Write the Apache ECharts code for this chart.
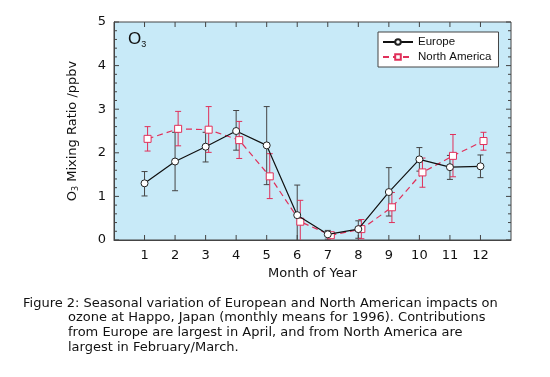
<!DOCTYPE html>
<html>
<head>
<meta charset="utf-8">
<script src="https://cdn.jsdelivr.net/npm/echarts@6/dist/echarts.min.js"></script>
<style>
    html, body { margin: 0; padding: 0; background: #fff; }
    #chart { width: 550px; height: 377px; }
</style>
</head>
<body>
<div id="chart"></div>
<script>
    'use strict';
    var months = [1, 2, 3, 4, 5, 6, 7, 8, 9, 10, 11, 12];

    var europe     = [1.30, 1.80, 2.14, 2.50, 2.17, 0.57, 0.13, 0.25, 1.10, 1.85, 1.67, 1.69];
    var europeLow  = [1.01, 1.13, 1.79, 2.06, 1.27, -0.10, 0.02, 0.04, 0.55, 1.58, 1.39, 1.43];
    var europeHigh = [1.57, 2.47, 2.47, 2.97, 3.06, 1.26, 0.22, 0.44, 1.66, 2.12, 1.94, 1.95];

    var america     = [2.32, 2.55, 2.53, 2.29, 1.46, 0.42, 0.11, 0.25, 0.75, 1.55, 1.93, 2.27];
    var americaLow  = [2.04, 2.16, 2.01, 1.87, 0.95, -0.10, 0.05, 0.03, 0.40, 1.21, 1.45, 2.06];
    var americaHigh = [2.60, 2.95, 3.06, 2.72, 1.98, 0.91, 0.17, 0.47, 1.09, 1.88, 2.42, 2.47];

    var captionLines = [
        'Figure 2: Seasonal variation of European and North American impacts on',
        'ozone at Happo, Japan (monthly means for 1996). Contributions',
        'from Europe are largest in April, and from North America are',
        'largest in February/March.'
    ];

    var font = '"DejaVu Sans", sans-serif';
    var legendFont = '"Liberation Sans", Arial, sans-serif';
    var shift = 0.1; // North America points sit a little right of the month
    var xMin = 0, xMax = 13, yMin = 0, yMax = 5;

    // inside tick marks: every 0.2 on y (major on whole numbers), every month on x
    var yTickVals = [];
    for (var t = 0; t <= 25; t++) { yTickVals.push(t / 5); }

    function points(vals, dx) {
        return months.map(function(m, i) { return [m + dx, vals[i]]; });
    }
    function bars(lo, hi, dx) {
        return months.map(function(m, i) { return [m + dx, lo[i], hi[i]]; });
    }

    function errorBar(color) {
        return function(params, api) {
            var x = api.value(0);
            var top = api.coord([x, api.value(2)]);
            var bot = api.coord([x, api.value(1)]);
            var w = 3;
            var st = { stroke: color, lineWidth: 1 };
            return {
                type: 'group',
                children: [
                    { type: 'line', shape: { x1: top[0], y1: top[1], x2: bot[0], y2: bot[1] }, style: st },
                    { type: 'line', shape: { x1: top[0] - w, y1: top[1], x2: top[0] + w, y2: top[1] }, style: st },
                    { type: 'line', shape: { x1: bot[0] - w, y1: bot[1], x2: bot[0] + w, y2: bot[1] }, style: st }
                ]
            };
        };
    }

    var tickStroke = { stroke: '#444', lineWidth: 1 };
    function yTick(params, api) {
        var v = api.value(0);
        var len = Math.abs(v - Math.round(v)) < 1e-6 ? 5 : 3;
        var l = api.coord([xMin, v]), r = api.coord([xMax, v]);
        return {
            type: 'group',
            children: [
                { type: 'line', shape: { x1: l[0], y1: l[1], x2: l[0] + len, y2: l[1] }, style: tickStroke },
                { type: 'line', shape: { x1: r[0], y1: r[1], x2: r[0] - len, y2: r[1] }, style: tickStroke }
            ]
        };
    }
    function xTick(params, api) {
        var m = api.value(0);
        var b = api.coord([m, yMin]), t = api.coord([m, yMax]);
        return {
            type: 'group',
            children: [
                { type: 'line', shape: { x1: b[0], y1: b[1], x2: b[0], y2: b[1] - 5 }, style: tickStroke },
                { type: 'line', shape: { x1: t[0], y1: t[1], x2: t[0], y2: t[1] + 5 }, style: tickStroke }
            ]
        };
    }

    var chart = echarts.init(document.getElementById('chart'));

    chart.setOption({
        animation: false,
        textStyle: { fontFamily: font },
        grid: {
            left: 114, top: 22, width: 397, height: 218,
            show: true, backgroundColor: '#c8eaf8', borderColor: '#444', borderWidth: 1
        },
        legend: {
            data: ['Europe', 'North America'],
            orient: 'vertical',
            left: 378, top: 32,
            backgroundColor: '#fff', borderColor: '#444', borderWidth: 1,
            padding: [4, 7, 4, 4], itemGap: 3, itemWidth: 30, itemHeight: 7,
            textStyle: { fontSize: 11.5, color: '#111', fontFamily: legendFont }
        },
        xAxis: {
            type: 'value', min: xMin, max: xMax, interval: 1, position: 'bottom',
            axisLine: { show: true, lineStyle: { color: '#444', width: 1 } },
            axisTick: { show: false },
            splitLine: { show: false },
            name: 'Month of Year', nameLocation: 'middle', nameGap: 27,
            nameTextStyle: { fontSize: 13, color: '#111', fontFamily: font },
            axisLabel: {
                fontSize: 13, color: '#111', margin: 9, fontFamily: font,
                formatter: function(v) { return (v >= 1 && v <= 12) ? String(v) : ''; }
            }
        },
        yAxis: {
            type: 'value', min: yMin, max: yMax, interval: 1, position: 'left',
            axisLine: { show: true, lineStyle: { color: '#444', width: 1 } },
            axisTick: { show: false },
            splitLine: { show: false },
            name: 'O{s|3} Mixing Ratio /ppbv', nameLocation: 'middle', nameGap: 34,
            nameTextStyle: {
                fontSize: 13, color: '#111', fontFamily: font,
                rich: { s: { fontSize: 8, color: '#111', fontFamily: font, verticalAlign: 'bottom', padding: [6, 0, 0, 0] } }
            },
            axisLabel: { fontSize: 13, color: '#111', margin: 8, fontFamily: font }
        },
        graphic: [
            {
                type: 'text', left: 128, top: 31, z: 10,
                style: {
                    text: 'O{s|3}', fontSize: 17, fontFamily: legendFont, fill: '#111',
                    rich: { s: { fontSize: 9, fontFamily: legendFont, fill: '#111', padding: [10, 0, 0, 0] } }
                }
            }
        ].concat(captionLines.map(function(line, i) {
            return {
                type: 'text', left: i === 0 ? 23 : 68, top: 297 + i * 14.6,
                style: { text: line, fontSize: 13, fontFamily: font, fill: '#111' }
            };
        })),
        series: [
            {
                type: 'custom', name: 'y-ticks', clip: false, silent: true, z: 1,
                renderItem: yTick, encode: { y: 0 },
                data: yTickVals.map(function(v) { return [v]; })
            },
            {
                type: 'custom', name: 'x-ticks', clip: false, silent: true, z: 1,
                renderItem: xTick, encode: { x: 0 },
                data: months.map(function(m) { return [m]; })
            },
            {
                type: 'custom', name: 'eu-err', clip: true, z: 2,
                renderItem: errorBar('#444'),
                encode: { x: 0, y: [1, 2] },
                data: bars(europeLow, europeHigh, 0)
            },
            {
                type: 'custom', name: 'na-err', clip: true, z: 2,
                renderItem: errorBar('#e0305a'),
                encode: { x: 0, y: [1, 2] },
                data: bars(americaLow, americaHigh, shift)
            },
            {
                type: 'line', name: 'Europe', z: 4,
                data: points(europe, 0),
                symbol: 'circle', symbolSize: 7,
                lineStyle: { color: '#111', width: 1.2 },
                itemStyle: { color: '#fff', borderColor: '#222', borderWidth: 1 }
            },
            {
                type: 'line', name: 'North America', z: 3,
                data: points(america, shift),
                symbol: 'rect', symbolSize: 7,
                lineStyle: { color: '#e0305a', width: 1.2, type: [6, 4] },
                itemStyle: { color: '#fff', borderColor: '#e0305a', borderWidth: 1 }
            }
        ]
    });
</script>
</body>
</html>
